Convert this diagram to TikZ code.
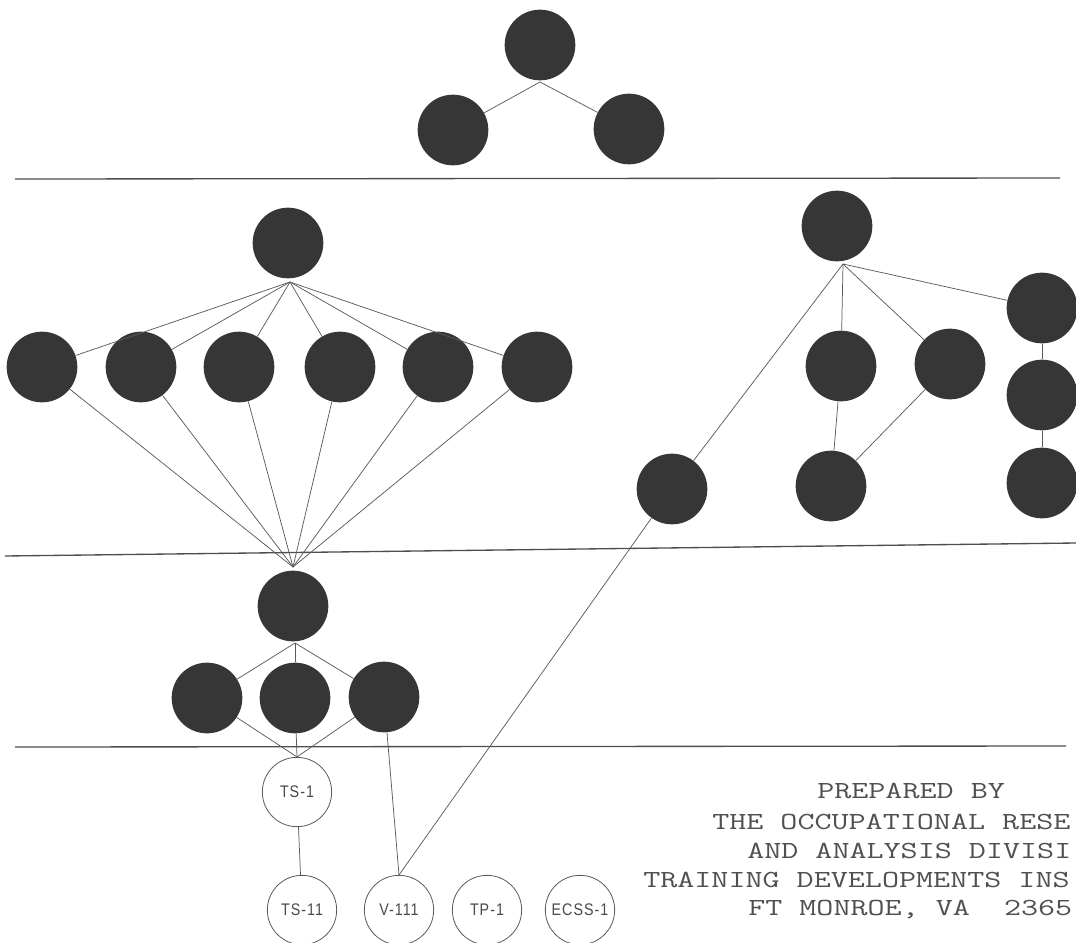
\documentclass[tikz,border=0pt]{standalone}
\usepackage{fontspec}
\setmonofont[FakeStretch=1.35]{Latin Modern Mono}
\newfontfamily\labelfont[FakeStretch=0.85,LetterSpace=6]{Liberation Sans}
\definecolor{dotfill}{HTML}{363636}
\definecolor{wire}{HTML}{5A5A5A}
\definecolor{rule}{HTML}{4E4E4E}
\definecolor{ink}{HTML}{4A4A4A}
\definecolor{typeink}{HTML}{505050}
\tikzset{
  dot/.style={circle, fill=dotfill, minimum size=53pt, inner sep=0pt},
  unit/.style={circle, draw=wire, line width=0.6pt, minimum size=52pt, inner sep=0pt,
    font=\labelfont\fontsize{12.6}{14}\selectfont, text=ink},
  link/.style={draw=wire, line width=0.55pt},
  band/.style={draw=rule, line width=1pt},
  typed/.style={anchor=base west, inner sep=0pt, text=typeink,
    font=\ttfamily\fontsize{18.4}{22}\selectfont}
}
\begin{document}
\begin{tikzpicture}[x=0.75pt,y=-0.75pt]
\useasboundingbox[fill=white] (0,0) rectangle (1076,943);

% separating rules
\coordinate (r1a) at (15,179);  \coordinate (r1b) at (1060,178);
\coordinate (r2a) at (5,556);   \coordinate (r2b) at (1076,543);
\coordinate (r3a) at (15,747);  \coordinate (r3b) at (1066,746);
\draw[band] (r1a) -- (r1b);
\draw[band] (r2a) -- (r2b);
\draw[band] (r3a) -- (r3b);

% top triad
\node[dot] (t0) at (540,45) {};
\node[dot] (t1) at (453,130) {};
\node[dot] (t2) at (629,129) {};
\coordinate (tj) at (540,82);
\draw[link] (tj) -- (t1);
\draw[link] (tj) -- (t2);

% left tree
\node[dot] (a0) at (288,243) {};
\node[dot] (a1) at (42,367) {};
\node[dot] (a2) at (141,367) {};
\node[dot] (a3) at (239,367) {};
\node[dot] (a4) at (340,367) {};
\node[dot] (a5) at (438,367) {};
\node[dot] (a6) at (537,367) {};
\coordinate (aj) at (290,282);
\coordinate (mj) at (293,567);
\foreach \k in {1,...,6} {
  \draw[link] (aj) -- (a\k);
  \draw[link] (a\k) -- (mj);
}

% middle group
\node[dot] (m0) at (293,606) {};
\node[dot] (m1) at (207,698) {};
\node[dot] (m2) at (295,698) {};
\node[dot] (m3) at (384,697) {};
\coordinate (mb) at (295,643);
\draw[link] (mb) -- (m1);
\draw[link] (mb) -- (m2);
\draw[link] (mb) -- (m3);

% right tree
\node[dot] (r0) at (837,226) {};
\node[dot] (r1) at (841,366) {};
\node[dot] (r2) at (950,364) {};
\node[dot] (r3) at (1042,308) {};
\node[dot] (r4) at (1042,395) {};
\node[dot] (r5) at (1042,483) {};
\node[dot] (r6) at (831,486) {};
\node[dot] (lone) at (672,489) {};
\coordinate (rj) at (843,264);
\draw[link] (rj) -- (r1);
\draw[link] (rj) -- (r2);
\draw[link] (rj) -- (r3);
\draw[link] (r3) -- (r4);
\draw[link] (r4) -- (r5);
\draw[link] (r1) -- (r6);
\draw[link] (r2) -- (r6);
\draw[link] (rj) -- (lone);

% open units
\node[unit] (ts1) at (297,792) {TS-1};
\node[unit] (ts11) at (302,910) {TS-11};
\node[unit] (v111) at (399,910) {V-111};
\node[unit] (tp1) at (487,910) {TP-1};
\node[unit] (ecss) at (580,910) {ECSS-1};
\draw[link] (m1) -- (ts1.north);
\draw[link] (m2) -- (ts1.north);
\draw[link] (m3) -- (ts1.north);
\draw[link] (ts1) -- (ts11);
\draw[link] (m3) -- (v111.north);
\draw[link] (v111.north) -- (lone);

% typed credit
\node[typed] (c1) at (817,798) {PREPARED BY};
\node[typed] (c2) at (712,829) {THE OCCUPATIONAL RESE};
\node[typed] (c3) at (747,858) {AND ANALYSIS DIVISI};
\node[typed] (c4) at (643,887) {TRAINING DEVELOPMENTS INS};
\node[typed] (c5) at (748,915) {FT MONROE, VA\ \ 2365};
\end{tikzpicture}
\end{document}
